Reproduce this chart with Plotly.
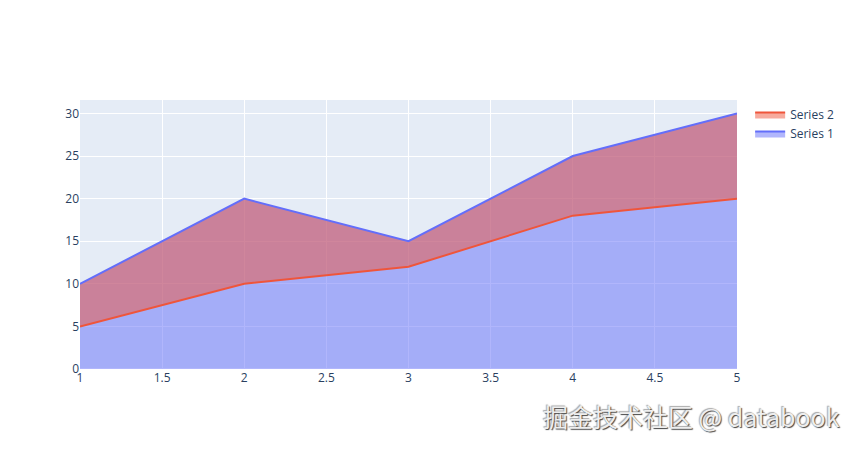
import plotly.graph_objects as go

x = [1, 2, 3, 4, 5]
series1 = [10, 20, 15, 25, 30]
series2 = [5, 10, 12, 18, 20]

fig = go.Figure()
fig.add_trace(go.Scatter(x=x, y=series1, name="Series 1", mode="lines", fill="tozeroy"))
fig.add_trace(go.Scatter(x=x, y=series2, name="Series 2", mode="lines", fill="tonexty"))

fig.add_annotation(
    text="掘金技术社区 @ databook", xref="paper", yref="paper",
    x=1.16, y=-0.1, xanchor="right", yanchor="top", showarrow=False,
    font=dict(size=25, color="#eeeeee", family="Noto Sans CJK SC",
              shadow="1px 1px 1px #444, -1px -1px 1px #aaa"),
)
fig.update_layout(width=849, height=442, margin=dict(l=72, r=120, t=92, b=81))
fig.write_html("out.html")
